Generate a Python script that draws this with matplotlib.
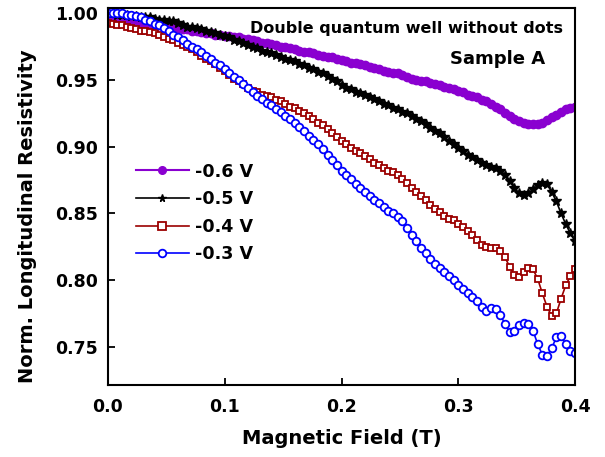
import matplotlib
matplotlib.use("Agg")
import matplotlib.pyplot as plt

plt.rcParams['font.family'] = ['DejaVu Sans']
plt.rcParams['font.weight'] = 'bold'
plt.rcParams['axes.labelweight'] = 'bold'

# magnetic field sweep (T), one reading every 4 mT
field = [round(0.004 * i, 3) for i in range(101)]

rho_06 = [0.995, 0.995, 0.994, 0.994, 0.994, 0.993, 0.993, 0.992, 0.992, 0.992,
          0.991, 0.991, 0.990, 0.990, 0.989, 0.989, 0.988, 0.988, 0.987, 0.987,
          0.986, 0.985, 0.985, 0.984, 0.984, 0.983, 0.983, 0.982, 0.982, 0.981,
          0.981, 0.980, 0.979, 0.978, 0.978, 0.977, 0.976, 0.975, 0.975, 0.974,
          0.973, 0.972, 0.971, 0.971, 0.970, 0.969, 0.968, 0.967, 0.967, 0.966,
          0.965, 0.964, 0.963, 0.963, 0.962, 0.961, 0.960, 0.959, 0.958, 0.957,
          0.956, 0.955, 0.955, 0.954, 0.952, 0.951, 0.950, 0.949, 0.949, 0.948,
          0.947, 0.946, 0.945, 0.944, 0.943, 0.942, 0.941, 0.939, 0.938, 0.937,
          0.935, 0.934, 0.932, 0.930, 0.928, 0.925, 0.923, 0.921, 0.919, 0.918,
          0.917, 0.917, 0.917, 0.918, 0.920, 0.922, 0.924, 0.926, 0.928, 0.929,
          0.930]

rho_05 = [1.000, 1.000, 0.999, 0.999, 0.999, 0.998, 0.998, 0.997, 0.997, 0.997,
          0.996, 0.995, 0.995, 0.994, 0.994, 0.993, 0.991, 0.990, 0.990, 0.989,
          0.988, 0.987, 0.986, 0.985, 0.984, 0.983, 0.982, 0.980, 0.979, 0.978,
          0.976, 0.975, 0.974, 0.972, 0.971, 0.970, 0.969, 0.967, 0.966, 0.965,
          0.964, 0.962, 0.961, 0.959, 0.958, 0.956, 0.955, 0.953, 0.951, 0.949,
          0.946, 0.944, 0.943, 0.941, 0.940, 0.939, 0.937, 0.936, 0.934, 0.932,
          0.931, 0.929, 0.928, 0.926, 0.925, 0.923, 0.921, 0.919, 0.917, 0.914,
          0.912, 0.910, 0.907, 0.904, 0.902, 0.899, 0.897, 0.894, 0.892, 0.890,
          0.888, 0.886, 0.885, 0.884, 0.882, 0.879, 0.874, 0.869, 0.865, 0.864,
          0.865, 0.868, 0.871, 0.873, 0.872, 0.866, 0.859, 0.850, 0.842, 0.835,
          0.829]

rho_04 = [0.993, 0.992, 0.991, 0.991, 0.990, 0.989, 0.988, 0.987, 0.987, 0.986,
          0.985, 0.984, 0.982, 0.981, 0.980, 0.978, 0.976, 0.975, 0.973, 0.971,
          0.968, 0.966, 0.964, 0.962, 0.959, 0.957, 0.954, 0.951, 0.949, 0.947,
          0.944, 0.942, 0.941, 0.939, 0.938, 0.937, 0.935, 0.934, 0.932, 0.930,
          0.929, 0.927, 0.925, 0.923, 0.921, 0.918, 0.916, 0.913, 0.910, 0.907,
          0.904, 0.902, 0.899, 0.897, 0.895, 0.893, 0.891, 0.888, 0.886, 0.884,
          0.882, 0.881, 0.879, 0.876, 0.873, 0.869, 0.866, 0.863, 0.860, 0.856,
          0.853, 0.851, 0.848, 0.846, 0.845, 0.842, 0.840, 0.837, 0.834, 0.830,
          0.826, 0.825, 0.824, 0.824, 0.822, 0.817, 0.810, 0.804, 0.802, 0.806,
          0.809, 0.808, 0.801, 0.790, 0.780, 0.773, 0.775, 0.786, 0.796, 0.803,
          0.808]

rho_03 = [1.000, 1.000, 1.000, 1.000, 0.999, 0.999, 0.998, 0.997, 0.995, 0.994,
          0.992, 0.991, 0.989, 0.987, 0.984, 0.982, 0.980, 0.977, 0.975, 0.973,
          0.971, 0.968, 0.966, 0.963, 0.961, 0.958, 0.955, 0.952, 0.950, 0.947,
          0.944, 0.941, 0.938, 0.936, 0.933, 0.931, 0.928, 0.926, 0.923, 0.921,
          0.918, 0.915, 0.912, 0.908, 0.905, 0.902, 0.898, 0.894, 0.890, 0.886,
          0.882, 0.879, 0.876, 0.872, 0.869, 0.866, 0.863, 0.860, 0.858, 0.855,
          0.852, 0.850, 0.847, 0.844, 0.839, 0.834, 0.829, 0.824, 0.820, 0.816,
          0.812, 0.809, 0.806, 0.803, 0.800, 0.796, 0.793, 0.790, 0.787, 0.784,
          0.780, 0.777, 0.779, 0.778, 0.774, 0.767, 0.761, 0.762, 0.766, 0.768,
          0.767, 0.762, 0.752, 0.744, 0.743, 0.749, 0.757, 0.758, 0.752, 0.747,
          0.745]

labels = ["-0.6 V", "-0.5 V", "-0.4 V", "-0.3 V"]
x_ticks = [0.0, 0.1, 0.2, 0.3, 0.4]
y_ticks = [0.75, 0.80, 0.85, 0.90, 0.95, 1.00]

fig = plt.figure(figsize=(6.05, 4.57), dpi=100)
ax = fig.add_axes([0.1785, 0.1575, 0.772, 0.825])

ax.plot(field, rho_06, color='#8A00D0', marker='o', markersize=6, lw=1.5,
        label=labels[0])
ax.plot(field, rho_05, color='black', marker='*', markersize=7.5, lw=1.2,
        label=labels[1])
ax.plot(field, rho_04, color='#9B0000', marker='s', markersize=5, mfc='white',
        mew=1.3, lw=1.2, label=labels[2])
ax.plot(field, rho_03, color='#0000FF', marker='o', markersize=5.5, mfc='white',
        mew=1.3, lw=1.2, label=labels[3])

ax.set_xlim(0, 0.4)
ax.set_ylim(0.7213, 1.004)
ax.set_xticks(x_ticks)
ax.set_yticks(y_ticks)
ax.set_xticklabels([f"{v:.1f}" for v in x_ticks])
ax.set_yticklabels([f"{v:.2f}" for v in y_ticks])
ax.tick_params(direction='in', length=5, width=1.3, labelsize=12.5)
ax.tick_params(axis='x', pad=9)
ax.tick_params(axis='y', pad=7)
for s in ax.spines.values():
    s.set_linewidth(1.5)

ax.set_xlabel('Magnetic Field (T)', fontsize=14, labelpad=10)
ax.set_ylabel('Norm. Longitudinal Resistivity', fontsize=14)
ax.yaxis.set_label_coords(-0.152, 0.448)

ax.text(0.975, 0.945, 'Double quantum well without dots', transform=ax.transAxes,
        ha='right', va='center', fontsize=11.5)
ax.text(0.935, 0.865, 'Sample A', transform=ax.transAxes,
        ha='right', va='center', fontsize=13)

leg = ax.legend(loc='upper left', bbox_to_anchor=(0.06, 0.59), frameon=False,
                fontsize=12.6, handlelength=3.0, handletextpad=0.35,
                labelspacing=0.55, numpoints=1, borderpad=0, borderaxespad=0)
for h in leg.legend_handles:
    h.set_markersize(5.5)

fig.savefig('out.png', dpi=100)
